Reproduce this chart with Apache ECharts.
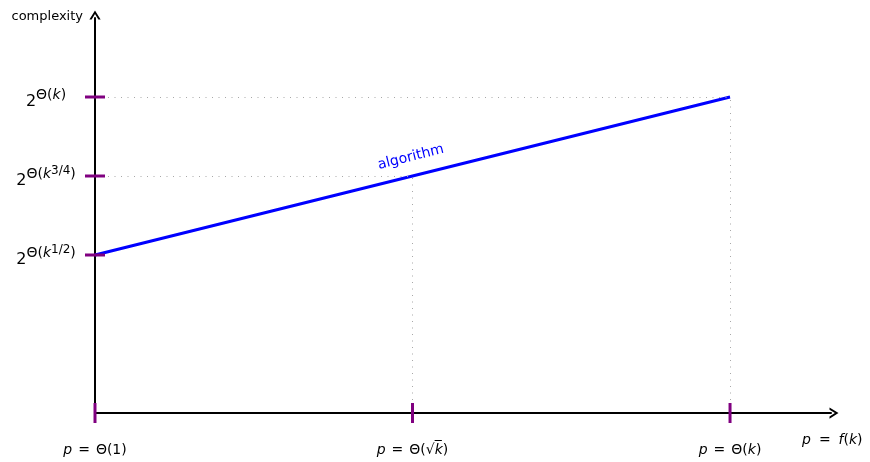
<!DOCTYPE html>
<html>
<head>
<meta charset="utf-8">
<script src="https://cdn.jsdelivr.net/npm/echarts@6/dist/echarts.min.js"></script>
<style>
  html, body { margin: 0; padding: 0; background: #fff; }
  #chart { width: 870px; height: 462px; }
</style>
</head>
<body>
<div id="chart"></div>
<script>
// regimes along the x axis and complexity levels on the y axis
const xTicks = [0, 1, 2];
const xLabels = ['{i|p}{e|=}Θ(1)', '{i|p}{e|=}Θ(√{i|k\u0305})', '{i|p}{e|=}Θ({i|k})'];
const yTicks = [2, 3, 4];
const yLabels = [
  '{b|2}{s|Θ(}{si|k}{ss|1/2}{s|)}',
  '{b|2}{s|Θ(}{si|k}{ss|3/4}{s|)}',
  '{b|2}{s|Θ(}{si|k}{s|)}'
];
// algorithm curve
const algX = [0, 1, 2];
const algY = [2, 3, 4];

const FONT = 'DejaVu Sans';
const purple = '#800080';
const chevron = 'path://M0,8 L5,0 L10,8 L8,8 L5,3.2 L2,8 Z';

const guides = [];
for (let i = 1; i < algX.length; i++) {
  guides.push([{ coord: [0, algY[i]] }, { coord: [algX[i], algY[i]] }]);
  guides.push([{ coord: [algX[i], 0] }, { coord: [algX[i], algY[i]] }]);
}

const tickPts = [];
xTicks.forEach(v => tickPts.push({ value: [v, 0], symbolSize: [3, 20] }));
yTicks.forEach(v => tickPts.push({ value: [0, v], symbolSize: [20, 3] }));

const chart = echarts.init(document.getElementById('chart'));
chart.setOption({
  animation: false,
  textStyle: { fontFamily: FONT },
  grid: { left: 95, right: 39, top: 18, bottom: 49, containLabel: false, outerBoundsMode: 'none' },
  xAxis: {
    type: 'value', min: 0, max: 2.318,
    splitLine: { show: false },
    axisTick: { show: false },
    axisLine: {
      onZero: false,
      lineStyle: { color: '#000', width: 2 },
      symbol: ['none', chevron], symbolSize: [12, 9], symbolOffset: [0, 3]
    },
    axisLabel: {
      customValues: xTicks,
      margin: 30,
      formatter: v => xLabels[xTicks.indexOf(v)],
      rich: {
        i: { fontFamily: FONT, fontSize: 14, fontStyle: 'italic', color: '#000' },
        e: { fontFamily: FONT, fontSize: 14, color: '#000', padding: [0, 6] }
      },
      fontSize: 14, color: '#000'
    },
    name: '{i|p}{e|=}{i|f}{n|(}{i|k}{n|)}',
    nameLocation: 'end',
    nameGap: -29,
    nameTextStyle: {
      verticalAlign: 'top', align: 'left', padding: [20, 0, 0, 0],
      rich: {
        i: { fontFamily: FONT, fontSize: 14, fontStyle: 'italic', color: '#000' },
        e: { fontFamily: FONT, fontSize: 14, color: '#000', padding: [0, 8] },
        n: { fontFamily: FONT, fontSize: 14, color: '#000' }
      }
    }
  },
  yAxis: {
    type: 'value', min: 0, max: 5,
    splitLine: { show: false },
    axisTick: { show: false },
    axisLine: {
      onZero: false,
      lineStyle: { color: '#000', width: 2 },
      symbol: ['none', chevron], symbolSize: [12, 9], symbolOffset: [0, 3]
    },
    axisLabel: {
      customValues: yTicks,
      margin: 49,
      align: 'center',
      formatter: v => yLabels[yTicks.indexOf(v)],
      rich: {
        b: { fontFamily: FONT, fontSize: 16, color: '#000', padding: [10, 0, 0, 0] },
        s: { fontFamily: FONT, fontSize: 14, color: '#000', padding: [0, 0, 4, 0] },
        si: { fontFamily: FONT, fontSize: 14, fontStyle: 'italic', color: '#000', padding: [0, 0, 4, 0] },
        ss: { fontFamily: FONT, fontSize: 12, color: '#000', padding: [0, 0, 10, 0] }
      }
    },
    name: 'complexity',
    nameLocation: 'end',
    nameGap: 1,
    nameTextStyle: { fontSize: 13, color: '#000', align: 'right', verticalAlign: 'middle', padding: [0, 12, 0, 0] }
  },
  series: [
    {
      type: 'line',
      data: algX.map((x, i) => i === 1 ? {
        value: [x, algY[i]],
        label: { show: true, formatter: 'algorithm', position: 'top', rotate: 14, distance: 12, color: '#0000ff', fontSize: 14 }
      } : [x, algY[i]]),
      showSymbol: true,
      symbol: 'circle',
      symbolSize: 0,
      lineStyle: { color: '#0000ff', width: 3 },
      z: 3,
      markLine: {
        silent: true,
        symbol: 'none',
        label: { show: false },
        lineStyle: { color: '#a8a8a8', type: [1, 5.5], width: 1 },
        data: guides
      }
    },
    {
      type: 'scatter',
      data: tickPts,
      symbol: 'rect',
      clip: false,
      itemStyle: { color: purple, opacity: 1 },
      z: 5,
      silent: true
    }
  ]
});
</script>
</body>
</html>
